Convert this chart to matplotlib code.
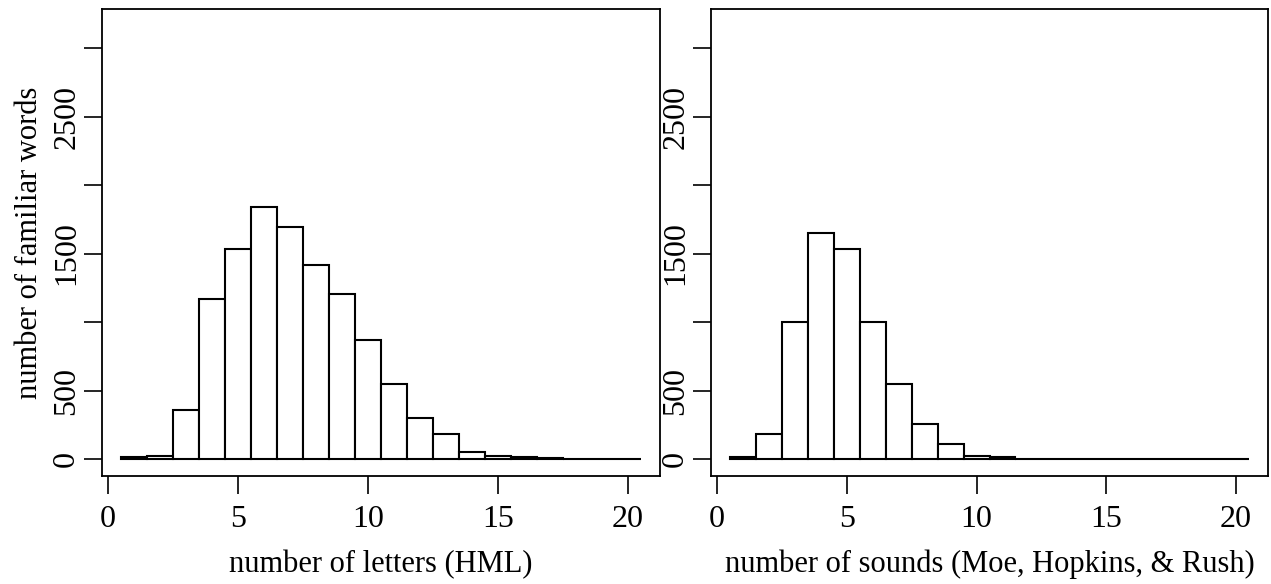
import numpy as np
import matplotlib.pyplot as plt

# lengths 1..20, counts
lengths = list(range(1, 21))
letters_counts = [12, 24, 359, 1166, 1530, 1837, 1691, 1413, 1208, 871,
                  551, 300, 183, 54, 22, 12, 10, 3, 2, 1]
sounds_counts = [12, 183, 1000, 1650, 1530, 1000, 551, 256, 110, 24,
                 12, 2, 1, 0, 0, 0, 0, 0, 0, 0]

xlabels = ["number of letters (HML)", "number of sounds (Moe, Hopkins, & Rush)"]
ylabel = "number of familiar words"
yticks = [0, 500, 1000, 1500, 2000, 2500, 3000]
ytick_labels = ["0", "500", "", "1500", "", "2500", ""]
xticks = [0, 5, 10, 15, 20]

plt.rcParams["font.family"] = ["Liberation Serif", "DejaVu Serif"]

fig = plt.figure(figsize=(12.71, 5.84), dpi=100)
ax1 = fig.add_axes([102 / 1271, 108 / 584, 558 / 1271, 467 / 584])
ax2 = fig.add_axes([711 / 1271, 108 / 584, 557 / 1271, 467 / 584])

for ax, counts, xl in [(ax1, letters_counts, xlabels[0]), (ax2, sounds_counts, xlabels[1])]:
    ax.bar(lengths, counts, width=1.0, color="white", edgecolor="black", linewidth=1.5)
    ax.set_xlim(-0.23, 21.23)
    ax.set_ylim(-124, 3285)
    ax.set_xticks(xticks)
    ax.set_xticklabels([str(t) for t in xticks])
    ax.set_yticks(yticks)
    ax.set_yticklabels(ytick_labels, rotation=90, va="center")
    ax.tick_params(axis="both", direction="out", length=13, width=1.2, labelsize=23)
    ax.tick_params(axis="x", pad=8)
    ax.tick_params(axis="y", pad=2)
    for s in ax.spines.values():
        s.set_linewidth(1.3)
    ax.set_xlabel(xl, fontsize=22, labelpad=11)

ax1.set_ylabel(ylabel, fontsize=22, labelpad=6)

fig.savefig("out.png", dpi=100)
